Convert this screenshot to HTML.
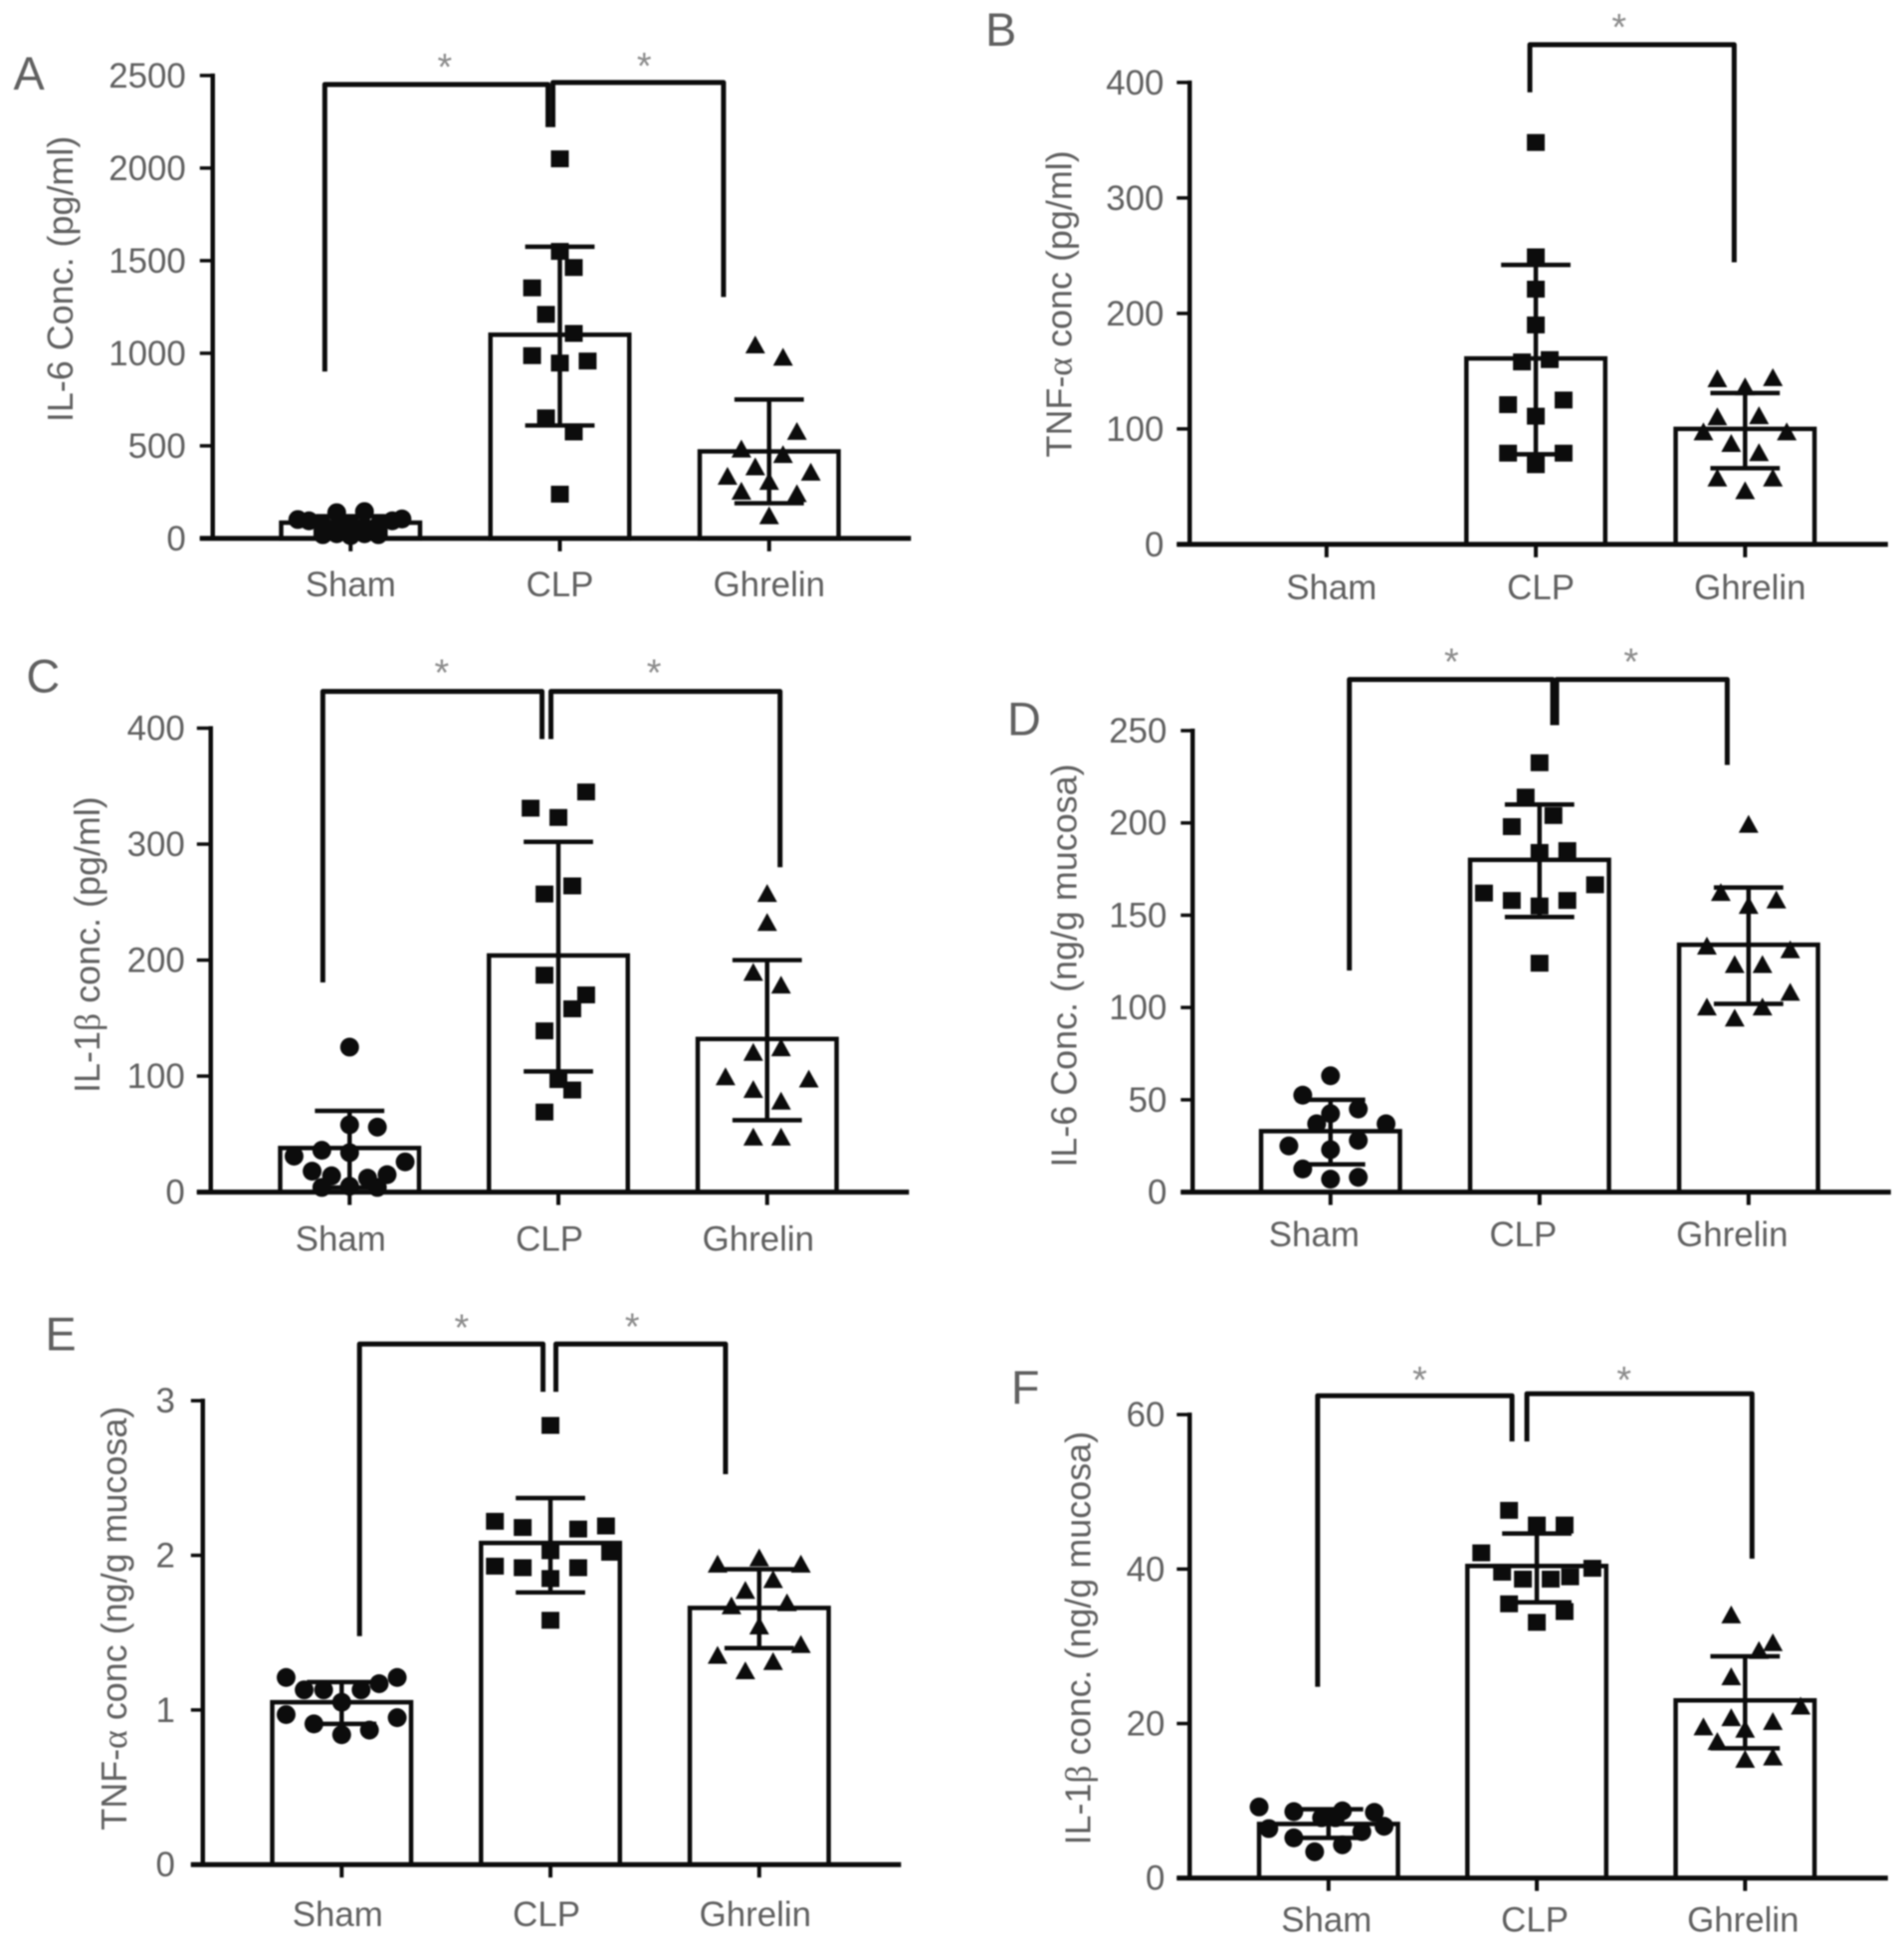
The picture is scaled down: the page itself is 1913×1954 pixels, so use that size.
<!DOCTYPE html>
<html lang="en">
<head>
<meta charset="utf-8">
<title>Cytokine concentrations by group</title>
<style>
html,body{margin:0;padding:0;background:#fff;}
#figure{display:block;width:1913px;height:1954px;filter:blur(0.7px);}
text{font-family:"Liberation Sans",sans-serif;fill:#606060;}
</style>
</head>
<body>
<svg id="figure" xmlns="http://www.w3.org/2000/svg" width="1913" height="1954" viewBox="0 0 1913 1954"></svg>
<script>
const categories = ['Sham', 'CLP', 'Ghrelin'];

/* Panel A */
const aTicks = [0, 500, 1000, 1500, 2000, 2500];
const aMeans = [85, 1100, 470];
const aErrHigh = [120, 1575, 750];
const aErrLow = [20, 610, 190];
const aShamValues = [102, 95, 95, 105, 139, 145, 70, 70, 40, 40, 60, 60, 80, 40, 25, 25, 15, 20, 20];
const aShamSlots = [-3.8, -3, 3, 3.7, -1, 1, -2, 2, -2, 2, -1, 1, 0, 0, -1, 1, 0, -2, 2];
const aClpValues = [2050, 1550, 1463, 1353, 1210, 1107, 987, 947, 958, 651, 575, 239];
const aClpSlots = [0, 0, 1, -2, -1, 1, -2, 0, 2, -1, 1, 0];
const aGhrelinValues = [1042, 976, 575, 480, 450, 384, 333, 355, 305, 252, 239, 120];
const aGhrelinSlots = [-1, 1, 2, -2, 1, -1, -3, 3, 0, -2, 2, 0];

/* Panel B */
const bTicks = [0, 100, 200, 300, 400];
const bMeans = [null, 161, 100];
const bErrHigh = [null, 242, 131];
const bErrLow = [null, 78, 66];
const bShamValues = [];
const bShamSlots = [];
const bClpValues = [348, 249, 221, 190, 158, 160, 121, 125, 111, 79, 79, 69];
const bClpSlots = [0, 0, 0, 0, -1, 1, -2, 2, 0, -2, 2, 0];
const bGhrelinValues = [143, 144, 136, 110, 111, 97, 97, 87, 79, 57, 57, 46];
const bGhrelinSlots = [-2, 2, 0, -2, 1, -3, 3, -1, 1, -2, 2, 0];

/* Panel C */
const cTicks = [0, 100, 200, 300, 400];
const cMeans = [38, 204, 132];
const cErrHigh = [70, 302, 200];
const cErrLow = [4, 104, 62];
const cShamValues = [125, 58, 56, 36, 31, 34, 26, 18, 15, 14, 12, 5, 4, 4];
const cShamSlots = [0, 0, 2, -2, -4, 0, 4, -2.7, 2.7, -1.3, 1.3, 0, -2, 2];
const cClpValues = [345, 331, 323, 264, 257, 187, 170, 158, 139, 97, 88, 69];
const cClpSlots = [2, -2, 0, 1, -1, -1, 2, 1, -1, 0, 1, -1];
const cGhrelinValues = [257, 232, 189, 178, 120, 124, 99, 97, 88, 78, 47, 47];
const cGhrelinSlots = [0, 0, -1, 1, -1, 1, -3, 3, -1, 1, -1, 1];

/* Panel D */
const dTicks = [0, 50, 100, 150, 200, 250];
const dMeans = [33, 180, 134];
const dErrHigh = [50, 210, 165];
const dErrLow = [15, 149, 102];
const dShamValues = [63, 52.5, 45, 42.5, 37, 37, 25, 28, 23, 12.5, 8, 7];
const dShamSlots = [0, -2, 2, 0, -1, 4, -3, 2, 0, -2, 2, 0];
const dClpValues = [232.6, 214, 204, 198, 184, 185, 166.5, 162, 158, 158, 155, 124];
const dClpSlots = [0, -1, 1, -2, 0, 2, 4, -4, -2, 2, 0, 0];
const dGhrelinValues = [199, 162, 158, 155, 133, 131, 123, 123, 108, 100, 100, 94];
const dGhrelinSlots = [0, -2, 2, 0, -3, 3, -1, 1, 3, -3, 1, -1];

/* Panel E */
const eTicks = [0, 1, 2, 3];
const eMeans = [1.05, 2.08, 1.66];
const eErrHigh = [1.18, 2.37, 1.91];
const eErrLow = [0.91, 1.76, 1.40];
const eShamValues = [1.21, 1.21, 1.17, 1.13, 1.13, 1.13, 1.05, 0.97, 0.95, 0.91, 0.87, 0.84];
const eShamSlots = [-4, 4, 2.7, -2.7, -1.3, 1.4, 0, -4, 4, -2, 2, 0];
const eClpValues = [2.84, 2.22, 2.18, 2.17, 2.19, 2.03, 2.02, 1.93, 1.92, 1.92, 1.85, 1.58];
const eClpSlots = [0, -4, -2, 2, 4, 0, 4.3, -4, -2, 2, 0, 0];
const eGhrelinValues = [1.98, 1.94, 1.94, 1.84, 1.77, 1.67, 1.69, 1.54, 1.42, 1.35, 1.31, 1.25];
const eGhrelinSlots = [0, -3, 3, 1, -1, -2, 2, 0, 3, -3, 1, -1];

/* Panel F */
const fTicks = [0, 20, 40, 60];
const fMeans = [7, 40.4, 23];
const fErrHigh = [8.9, 44.6, 28.7];
const fErrLow = [5.2, 35.7, 16.8];
const fShamValues = [9.2, 8.6, 8.7, 8.5, 7.8, 6.7, 6.4, 6, 5.2, 4.3, 3.4, 7.8];
const fShamSlots = [-5, -2.5, 1, 3.3, -0.5, 4, -4.3, 2.4, -2.5, 1, -1, 0.5];
const fClpValues = [47.6, 45.7, 45.7, 42.1, 40.1, 39.6, 39, 38.7, 38.7, 35.5, 34.5, 33.1];
const fClpSlots = [-2, 0, 2, -4, 4, -2.5, 2.4, -1, 1, -2, 2, 0];
const fGhrelinValues = [34, 30.4, 29.4, 26, 22.2, 20.7, 20.2, 19.5, 19.2, 17.6, 15.3, 15.6];
const fGhrelinSlots = [-1, 2, 1, -1, 4, -1, 2, -3, 0, -2, 0, 2];

const svg = document.getElementById('figure');
const NS = 'http://www.w3.org/2000/svg';

function make(tag, parent, attrs) {
  const el = document.createElementNS(NS, tag);
  for (const k in attrs) el.setAttribute(k, attrs[k]);
  parent.appendChild(el);
  return el;
}

const root = make('g', svg, { transform: 'translate(-1.5,-2) scale(0.9965,0.998)' });

const panels = [
  { id: 'a', letter: 'A', title: 'IL-6 Conc. (pg/ml)', ticks: aTicks, means: aMeans, hi: aErrHigh, lo: aErrLow,
    pts: [[aShamValues, aShamSlots], [aClpValues, aClpSlots], [aGhrelinValues, aGhrelinSlots]],
    axisX: 216, y0: 544, yTop: 78, left: 203, right: 920, c0: 355, step: 211, labelDx: 0, labelY: 602,
    tickRight: 189, titleX: 63, titleY: 283, letterX: 15, letterY: 92,
    brackets: [[[329, 376], [329, 87], [554, 87], [554, 130]], [[559, 130], [559, 85], [731, 85], [731, 301]]],
    stars: [[450, 62], [651, 61]] },
  { id: 'b', letter: 'B', title: 'TNF-α conc (pg/ml)', ticks: bTicks, means: bMeans, hi: bErrHigh, lo: bErrLow,
    pts: [[bShamValues, bShamSlots], [bClpValues, bClpSlots], [bGhrelinValues, bGhrelinSlots]],
    axisX: 1201, y0: 550, yTop: 85, left: 1188, right: 1905, c0: 1339, step: 211, labelDx: 5, labelY: 605,
    tickRight: 1175, titleX: 1070, titleY: 308, letterX: 995, letterY: 48,
    brackets: [[[1544, 95], [1544, 47], [1750, 47], [1750, 266]]],
    stars: [[1634, 22]] },
  { id: 'c', letter: 'C', title: 'IL-1β conc. (pg/ml)', ticks: cTicks, means: cMeans, hi: cErrHigh, lo: cErrLow,
    pts: [[cShamValues, cShamSlots], [cClpValues, cClpSlots], [cGhrelinValues, cGhrelinSlots]],
    axisX: 214, y0: 1202, yTop: 735, left: 200, right: 918, c0: 354, step: 210.5, labelDx: -9, labelY: 1261,
    tickRight: 188, titleX: 90, titleY: 953, letterX: 28, letterY: 699,
    brackets: [[[327, 991], [327, 698], [548, 698], [548, 746]], [[557, 746], [557, 698], [788, 698], [788, 875]]],
    stars: [[447, 672], [661, 672]] },
  { id: 'd', letter: 'D', title: 'IL-6 Conc. (ng/g mucosa)', ticks: dTicks, means: dMeans, hi: dErrHigh, lo: dErrLow,
    pts: [[dShamValues, dShamSlots], [dClpValues, dClpSlots], [dGhrelinValues, dGhrelinSlots]],
    axisX: 1204, y0: 1202, yTop: 737.5, left: 1192, right: 1908, c0: 1343, step: 210.75, labelDx: -16.5, labelY: 1256.5,
    tickRight: 1178, titleX: 1075, titleY: 974, letterX: 1017, letterY: 742,
    brackets: [[[1362, 979], [1362, 686], [1567, 686], [1567, 732]], [[1571, 732], [1571, 686], [1743, 686], [1743, 772]]],
    stars: [[1465, 661], [1646, 661]] },
  { id: 'e', letter: 'E', title: 'TNF-α conc (ng/g mucosa)', ticks: eTicks, means: eMeans, hi: eErrHigh, lo: eErrLow,
    pts: [[eShamValues, eShamSlots], [eClpValues, eClpSlots], [eGhrelinValues, eGhrelinSlots]],
    axisX: 206, y0: 1879, yTop: 1412, left: 194, right: 910, c0: 346, step: 210.5, labelDx: -4, labelY: 1941,
    tickRight: 178, titleX: 117, titleY: 1631, letterX: 47, letterY: 1361,
    brackets: [[[364, 1649], [364, 1355], [549, 1355], [549, 1403]], [[562, 1403], [562, 1355], [733, 1355], [733, 1486]]],
    stars: [[467, 1331], [639, 1330]] },
  { id: 'f', letter: 'F', title: 'IL-1β conc. (ng/g mucosa)', ticks: fTicks, means: fMeans, hi: fErrHigh, lo: fErrLow,
    pts: [[fShamValues, fShamSlots], [fClpValues, fClpSlots], [fGhrelinValues, fGhrelinSlots]],
    axisX: 1201, y0: 1892.5, yTop: 1426, left: 1188, right: 1905, c0: 1341, step: 210, labelDx: -2, labelY: 1946.5,
    tickRight: 1176, titleX: 1089, titleY: 1651, letterX: 1021, letterY: 1415,
    brackets: [[[1330, 1700], [1330, 1407], [1526, 1407], [1526, 1453]], [[1541, 1453], [1541, 1405], [1768, 1405], [1768, 1571]]],
    stars: [[1433, 1384], [1639, 1384]] }
];

const SLOT_PX = 14;
const BAR_HALF = 70;
const CAP_HALF = 35;
const INK = '#0c0c0c';

function drawMarker(parent, shape, x, y) {
  if (shape === 0) return make('circle', parent, { cx: x, cy: y, r: 9.5, fill: INK });
  if (shape === 1) return make('rect', parent, { x: x - 9, y: y - 8.5, width: 18, height: 17, fill: INK });
  return make('polygon', parent, { points: (x - 10) + ',' + (y + 8) + ' ' + (x + 10) + ',' + (y + 8) + ' ' + x + ',' + (y - 10), fill: INK });
}

panels.forEach(function (p) {
  const g = make('g', root, {});
  
  

  const maxTick = p.ticks[p.ticks.length - 1];
  const yScale = function (v) { return p.y0 - (v / maxTick) * (p.y0 - p.yTop); };
  const xScale = function (i) { return p.c0 + i * p.step; };

  const letter = make('text', g, { x: p.letterX, y: p.letterY, 'font-size': 47 });
  letter.textContent = p.letter;
  
  

  const title = make('text', g, { x: 0, y: 0, 'font-size': 36, 'text-anchor': 'middle', transform: 'translate(' + (p.titleX + 12) + ',' + p.titleY + ') rotate(-90)' });
  
  
  p.title.split(/([αβ])/).forEach(function (part) {
    if (!part) return;
    const ts = make('tspan', title, {});
    ts.textContent = part;
    if (part === 'α' || part === 'β') ts.setAttribute('style', 'font-family:"Liberation Serif",serif');
  });

  /* bars first, so axes sit on top */
  p.means.forEach(function (m, i) {
    if (m === null) return;
    const bar = make('rect', g, { x: xScale(i) - BAR_HALF, y: yScale(m), width: BAR_HALF * 2, height: p.y0 - yScale(m), fill: '#fff', stroke: INK, 'stroke-width': 4.5 });
    
    
  });

  /* y axis and ticks */
  const yAxis = make('line', g, { x1: p.axisX, x2: p.axisX, y1: p.yTop - 2, y2: p.y0, stroke: INK, 'stroke-width': 4.5 });
  
  
  p.ticks.forEach(function (t) {
    const yy = yScale(t);
    const tick = make('line', g, { x1: p.left, x2: p.axisX, y1: yy, y2: yy, stroke: INK, 'stroke-width': 3.5 });
    
    
    const label = make('text', g, { x: p.tickRight, y: yy + 12, 'font-size': 35, 'text-anchor': 'end' });
    label.textContent = String(t);
    
    
  });

  /* x axis, ticks and category labels */
  const xAxis = make('line', g, { x1: p.left, x2: p.right, y1: p.y0, y2: p.y0, stroke: INK, 'stroke-width': 5 });
  
  
  categories.forEach(function (c, i) {
    const tick = make('line', g, { x1: xScale(i), x2: xScale(i), y1: p.y0, y2: p.y0 + 13, stroke: INK, 'stroke-width': 4 });
    
    
    const label = make('text', g, { x: xScale(i) + p.labelDx, y: p.labelY, 'font-size': 35, 'text-anchor': 'middle' });
    label.textContent = c;
    
    
  });

  /* error bars */
  p.means.forEach(function (m, i) {
    if (m === null) return;
    const cx = xScale(i);
    const eg = make('g', g, { stroke: INK, 'stroke-width': 4.5 });
    
    
    make('line', eg, { x1: cx, x2: cx, y1: yScale(p.hi[i]), y2: yScale(p.lo[i]) });
    make('line', eg, { x1: cx - CAP_HALF, x2: cx + CAP_HALF, y1: yScale(p.hi[i]), y2: yScale(p.hi[i]) });
    make('line', eg, { x1: cx - CAP_HALF, x2: cx + CAP_HALF, y1: yScale(p.lo[i]), y2: yScale(p.lo[i]) });
  });

  /* individual points */
  p.pts.forEach(function (set, i) {
    set[0].forEach(function (v, k) {
      const mark = drawMarker(g, i, xScale(i) + set[1][k] * SLOT_PX, yScale(v));
      
      
    });
  });

  /* significance brackets */
  p.brackets.forEach(function (b) {
    const line = make('polyline', g, { points: b.map(function (q) { return q.join(','); }).join(' '), fill: 'none', stroke: INK, 'stroke-width': 5, 'stroke-linejoin': 'round' });
    
    
  });
  p.stars.forEach(function (s) {
    const star = make('text', g, { x: s[0], y: s[1] + 20, 'font-size': 38, 'text-anchor': 'middle', style: 'fill:#8c8c8c' });
    star.textContent = '*';
    
    
  });
});
</script>
</body>
</html>
